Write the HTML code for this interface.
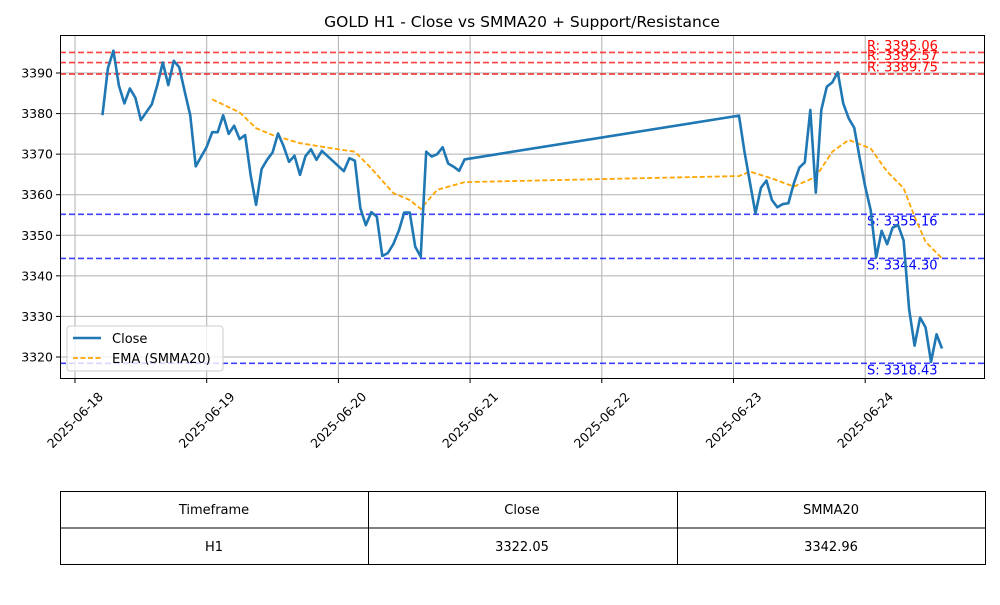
<!DOCTYPE html>
<html><head><meta charset="utf-8"><style>
body{margin:0;background:#fff;font-family:"Liberation Sans","DejaVu Sans",sans-serif}
</style></head><body>
<svg id="c" width="1000" height="600" xmlns="http://www.w3.org/2000/svg" font-family="DejaVu Sans, Liberation Sans, sans-serif">
<text x="522" y="27" text-anchor="middle" font-size="15.5">GOLD H1 - Close vs SMMA20 + Support/Resistance</text>
<g id="grid"></g><g id="lines"></g><g id="axes"></g>
<g>
<rect x="67" y="326" width="156" height="45" rx="3" fill="#fff" fill-opacity="0.8" stroke="#ccc"/>
<line x1="73" y1="338" x2="101" y2="338" stroke="#1f77b4" stroke-width="2.5"/>
<text x="112" y="343" font-size="13">Close</text>
<line x1="73" y1="358" x2="101" y2="358" stroke="orange" stroke-width="1.8" stroke-dasharray="5,2.5"/>
<text x="112" y="363" font-size="13">EMA (SMMA20)</text>
</g>
<g font-size="13" text-anchor="middle">
<rect x="60.5" y="491.5" width="925" height="73" fill="none" stroke="#000"/>
<line x1="60" y1="528" x2="985" y2="528" stroke="#000"/>
<line x1="368.5" y1="491" x2="368.5" y2="565" stroke="#000"/>
<line x1="677.5" y1="491" x2="677.5" y2="565" stroke="#000"/>
<text x="214" y="514">Timeframe</text><text x="522" y="514">Close</text><text x="831" y="514">SMMA20</text>
<text x="214" y="551">H1</text><text x="522" y="551">3322.05</text><text x="831" y="551">3342.96</text>
</g>
</svg>
<script>
const closeHours=[5,6,7,8,9,10,11,12,14,15,16,17,18,19,20,21,22,24,25,26,27,28,29,30,31,32,33,34,35,36,37,38,39,40,41,42,43,44,45,49,50,51,52,53,54,55,56,57,58,59,60,61,62,63,64,65,66,67,68,69,70,71,121,122,123,124,125,126,127,128,129,130,131,132,133,134,135,136,137,138,139,140,141,142,143,144,145,146,147,148,149,150,151,152,153,154,155,156,157,158];
const closeVals=[3379.6,3391.2,3395.5,3386.9,3382.5,3386.2,3383.9,3378.4,3382.3,3387,3392.6,3387,3393,3391.4,3385.4,3379.6,3367,3371.8,3375.4,3375.4,3379.6,3375,3377,3373.7,3374.7,3364.9,3357.5,3366.3,3368.6,3370.4,3375.1,3372,3368.1,3369.6,3364.9,3369.5,3371.2,3368.6,3370.8,3365.8,3369,3368.4,3356.7,3352.5,3355.7,3354.6,3344.9,3345.6,3347.8,3351.1,3355.6,3355.6,3347.2,3344.7,3370.6,3369.4,3370,3371.7,3367.7,3366.9,3365.9,3368.7,3379.5,3370.6,3363,3355.4,3361.7,3363.5,3358.7,3356.9,3357.7,3357.9,3362.8,3366.7,3368,3380.9,3360.5,3380.9,3386.6,3387.7,3390.2,3382.5,3378.8,3376.5,3369,3362,3356.2,3344.5,3351.1,3347.8,3351.9,3352.5,3348.7,3331.8,3322.8,3329.7,3327.3,3318.8,3325.6,3322.1];
const emaHours=[25,30,33,36,41,47,51,54,58,61,63,66,71,121,123,127,131,133,135,138,141,145,148,151,153,155,158];
const emaVals=[3383.5,3380.3,3376.4,3374.7,3372.7,3371.4,3370.6,3366.5,3360.4,3358.7,3356.5,3361.2,3363.1,3364.6,3365.7,3364,3362,3363.2,3364.4,3370.6,3373.5,3371.4,3365.7,3361.6,3354.6,3348.4,3344.3];
const resistance=[3395.06,3392.57,3389.75];
const support=[3355.16,3344.30,3318.43];
const yTicks=[3320,3330,3340,3350,3360,3370,3380,3390];
const xTickLabels=["2025-06-18","2025-06-19","2025-06-20","2025-06-21","2025-06-22","2025-06-23","2025-06-24"];
const NS="http://www.w3.org/2000/svg";
const L=60,R=985,T=35,B=379;
const X=h=>75+h*131.7/24;
const Y=v=>73+(3390-v)*4.057;
function el(tag,attrs,parent,txt){const e=document.createElementNS(NS,tag);for(const k in attrs)e.setAttribute(k,attrs[k]);if(txt!==undefined)e.textContent=txt;document.getElementById(parent).appendChild(e);return e;}
yTicks.forEach(v=>{
 const g=el('line',{x1:L,x2:R,y1:Y(v),y2:Y(v),stroke:'#b0b0b0','stroke-width':1},'grid');
 
 
 el('line',{x1:L-4,x2:L,y1:Y(v),y2:Y(v),stroke:'#000'},'axes');
 const t=el('text',{x:L-7,y:Y(v)+4.5,'text-anchor':'end','font-size':12.5},'axes',v);
 
 
});
xTickLabels.forEach((s,i)=>{
 const x=X(i*24);
 const g=el('line',{x1:x,x2:x,y1:T,y2:B,stroke:'#b0b0b0'},'grid');
 
 
 el('line',{x1:x,x2:x,y1:B,y2:B+4,stroke:'#000'},'axes');
 const cy=B+41;
 const t=el('text',{x:x,y:cy+4.5,'text-anchor':'middle','font-size':12.5,transform:`rotate(-45 ${x} ${cy})`},'axes',s);
 
 
});
resistance.forEach(v=>{
 const l=el('line',{x1:L,x2:R,y1:Y(v),y2:Y(v),stroke:'red','stroke-opacity':0.75,'stroke-width':1.6,'stroke-dasharray':'6,3'},'lines');
 
 
 const t=el('text',{x:867,y:Y(v)-2.5,fill:'red','font-size':13},'lines','R: '+v.toFixed(2));
 
 
});
support.forEach(v=>{
 const l=el('line',{x1:L,x2:R,y1:Y(v),y2:Y(v),stroke:'blue','stroke-opacity':0.75,'stroke-width':1.6,'stroke-dasharray':'6,3'},'lines');
 
 
 const t=el('text',{x:867,y:Y(v)+11,fill:'blue','font-size':13},'lines','S: '+v.toFixed(2));
 
 
});
const ema=el('polyline',{points:emaHours.map((h,i)=>X(h)+','+Y(emaVals[i])).join(' '),fill:'none',stroke:'orange','stroke-width':1.8,'stroke-dasharray':'5,2.5'},'lines');


const cl=el('polyline',{points:closeHours.map((h,i)=>X(h)+','+Y(closeVals[i])).join(' '),fill:'none',stroke:'#1f77b4','stroke-width':2.6,'stroke-linejoin':'round'},'lines');


const fr=el('rect',{x:L+0.5,y:T+0.5,width:R-L-1,height:B-T-1,fill:'none',stroke:'#000'},'axes');


</script>
</body></html>
